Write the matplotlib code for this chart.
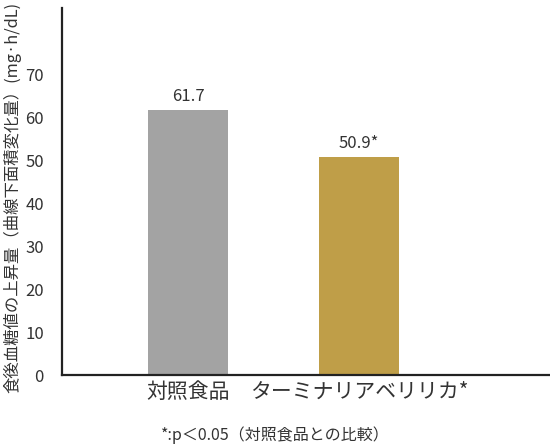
import matplotlib
matplotlib.use("Agg")
import matplotlib.pyplot as plt

plt.rcParams['font.family'] = ['Noto Sans CJK JP', 'DejaVu Sans']

categories = ["対照食品", "ターミナリアベリリカ*"]
values = [61.7, 50.9]
value_labels = ["61.7", "50.9*"]
colors = ["#a3a3a3", "#bf9e48"]
yticks = [0, 10, 20, 30, 40, 50, 60, 70]
ylabel = "食後血糖値の上昇量（曲線下面積変化量）(mg·h/dL)"
footnote = "*:p＜0.05（対照食品との比較）"

fig = plt.figure(figsize=(5.5, 4.48), dpi=100)
ax = fig.add_axes([62/550, 1-375/448, (549-62)/550, (375-8)/448])

x = list(range(len(categories)))
bars = ax.bar(x, values, width=0.468, color=colors)
for xi, v, lab in zip(x, values, value_labels):
    ax.text(xi, v + 1.2, lab, ha='center', va='bottom', fontsize=12, color='#333333')

ax.set_xlim(-0.737, 2.11)
ax.set_ylim(0, 85.6)
ax.set_yticks(yticks)
ax.set_yticklabels([str(t) for t in yticks], fontsize=12, color='#333333')
ax.set_xticks(x)
ax.set_xticklabels(categories, fontsize=15, color='#333333')
ax.tick_params(axis='both', length=0)
ax.tick_params(axis='y', pad=13)
ax.tick_params(axis='x', pad=4)
for s in ['top', 'right']:
    ax.spines[s].set_visible(False)
for s in ['left', 'bottom']:
    ax.spines[s].set_linewidth(1.6)
    ax.spines[s].set_color('#222222')

fig.text(12/550, 1-197/448, ylabel, rotation=90, ha='center', va='center', fontsize=11.8, color='#333333')
fig.text(275/550, 1-435/448, footnote, ha='center', va='center', fontsize=11.5, color='#333333')

fig.savefig("out.png", dpi=100)
